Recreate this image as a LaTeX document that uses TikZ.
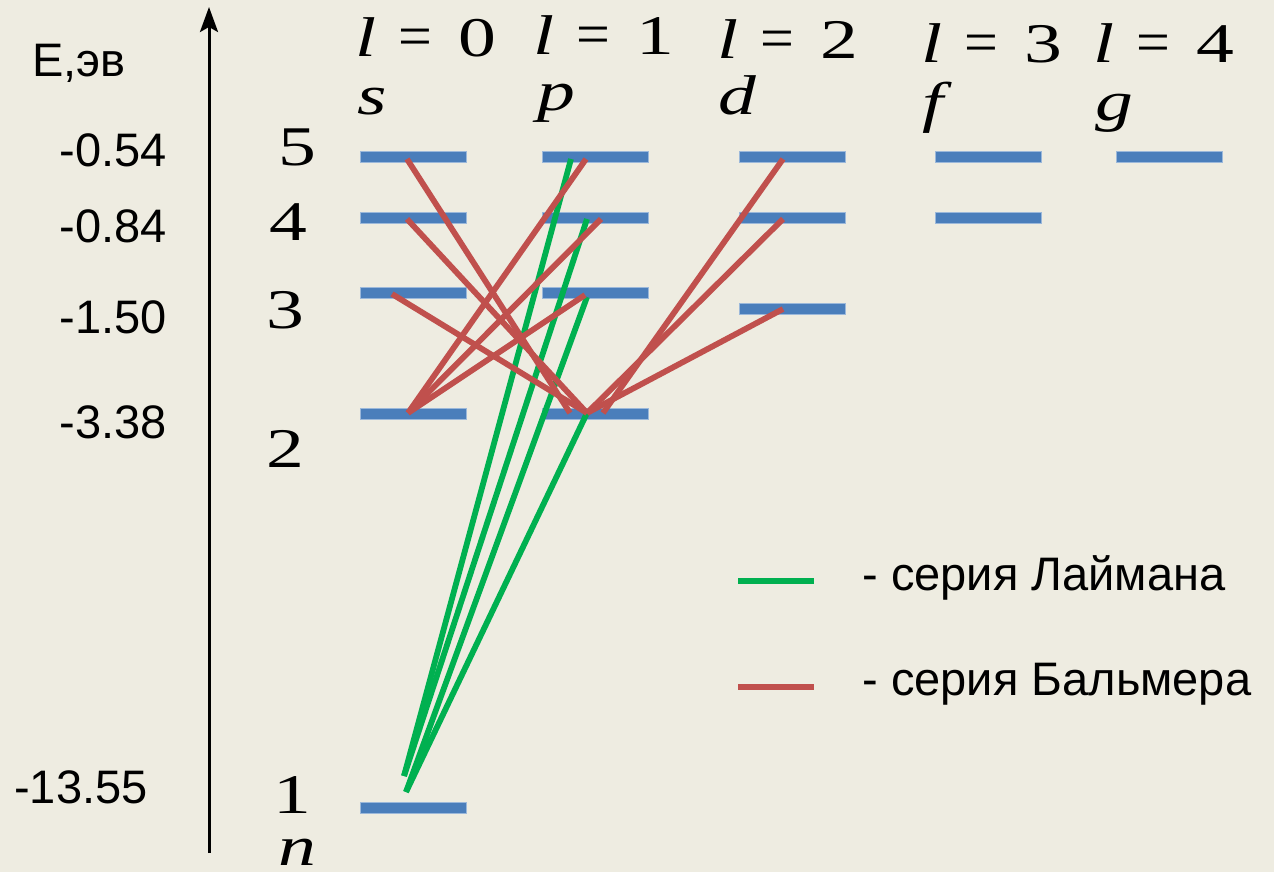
\documentclass[tikz,border=0pt]{standalone}
\usepackage{fontspec}
\setmainfont{Liberation Serif}
\newfontfamily\sansfont{Liberation Sans}
\newfontfamily\wideserif[FakeStretch=1.35]{Liberation Serif}
\usepackage{xcolor}
\usetikzlibrary{arrows.meta, calc, positioning}

\definecolor{bgpaper}{HTML}{EEECE1}
\definecolor{lvlblue}{HTML}{4A7EBB}
\definecolor{lymgreen}{HTML}{00B050}
\definecolor{balred}{HTML}{C0504D}

\tikzset{
  %% Energy level bar
  lvl/.style={
    rectangle, fill=lvlblue, draw=lvlblue!55!white,
    line width=0.3pt, inner sep=0pt,
    minimum width=53pt, minimum height=5.6pt
  },
  %% Transitions
  lyman/.style={draw=lymgreen, line width=2.9pt},
  balmer/.style={draw=balred, line width=2.9pt},
  legline/.style={line width=3.3pt},
  %% Axis
  eaxis/.style={-{Stealth[length=12.5pt,width=9pt,inset=2.5pt]},
                draw=black, line width=1.5pt},
  %% Texts
  ev/.style={anchor=base east, inner sep=0pt,
             font=\sansfont\fontsize{23.5}{27}\selectfont},
  legtext/.style={anchor=base west, inner sep=0pt,
             font=\sansfont\fontsize{23.5}{27}\selectfont},
  num/.style={anchor=base, inner sep=0pt,
             font=\wideserif\fontsize{28}{32}\selectfont},
  orb/.style={anchor=base west, inner sep=0pt,
             font=\wideserif\fontsize{28}{32}\selectfont},
}

\newcommand{\lval}[1]{\textit{l}\hspace{0.4em}{\rmfamily\fontsize{30}{32}\selectfont=}\hspace{0.46em}#1}

\begin{document}
\begin{tikzpicture}[x=0.5pt, y=-0.5pt]
  \fill[bgpaper] (0,0) rectangle (1274,872);
  \useasboundingbox (0,0) rectangle (1274,872);

  %% Energy axis
  \coordinate (axbot) at (209,853);
  \coordinate (axtop) at (209,7);
  \draw[eaxis] (axbot) -- (axtop);

  \node[ev, anchor=base west] (eunit) at (32,77) {E,эв};
  \node[ev] (e5) at (167,167) {-0.54};
  \node[ev] (e4) at (167,242) {-0.84};
  \node[ev] (e3) at (167,333) {-1.50};
  \node[ev] (e2) at (167,438) {-3.38};
  \node[ev] (e1) at (148,803) {-13.55};

  %% Principal quantum number
  \node[num] (n5) at (297,165) {5};
  \node[num] (n4) at (288,240) {4};
  \node[num] (n3) at (285,328) {3};
  \node[num] (n2) at (285,467) {2};
  \node[num] (n1) at (292,813) {1};
  \node[num, font=\wideserif\fontsize{28}{32}\selectfont\itshape] (nsym) at (297,865) {n};

  %% Orbital quantum number
  \node[orb] (l0) at (355,57) {\lval{0}};
  \node[orb] (l1) at (533,55) {\lval{1}};
  \node[orb] (l2) at (717,59) {\lval{2}};
  \node[orb] (l3) at (921,63) {\lval{3}};
  \node[orb] (l4) at (1093,63) {\lval{4}};
  \node[orb] (ls) at (357,115) {\textit{s}};
  \node[orb] (lp) at (537,111) {\textit{p}};
  \node[orb] (ld) at (718,115) {\textit{d}};
  \node[orb] (lf) at (922,121) {\textit{f}};
  \node[orb] (lg) at (1095,120) {\textit{g}};

  %% Levels
  \node[lvl] (s5) at (413.5,157) {};
  \node[lvl] (s4) at (413.5,218) {};
  \node[lvl] (s3) at (413.5,293) {};
  \node[lvl] (s2) at (413.5,414) {};
  \node[lvl] (s1) at (413.5,808) {};
  \node[lvl] (p5) at (595,157) {};
  \node[lvl] (p4) at (595,218) {};
  \node[lvl] (p3) at (595,293) {};
  \node[lvl] (p2) at (595,414) {};
  \node[lvl] (d5) at (792,157) {};
  \node[lvl] (d4) at (792,218) {};
  \node[lvl] (d3) at (792,309) {};
  \node[lvl] (f5) at (988,157) {};
  \node[lvl] (f4) at (988,218) {};
  \node[lvl] (g5) at (1169,157) {};

  %% Lyman series
  \draw[lyman] ($(p5)+(-24,2)$) -- ($(s1)+(-9.5,-32)$);
  \draw[lyman] ($(p4)+(-8,1)$)  -- ($(s1)+(-9.5,-32)$);
  \draw[lyman] ($(p3)+(-8,4)$)  -- ($(s1)+(-7.5,-16)$);
  \draw[lyman] ($(p2)+(-8,-1)$) -- ($(s1)+(-7.5,-16)$);

  %% Balmer series
  \draw[balmer] ($(s5)+(-6.5,2)$)  -- ($(p2)+(-25,-1)$);
  \draw[balmer] ($(s4)+(-6.5,1)$)  -- ($(p2)+(-8,-1)$);
  \draw[balmer] ($(s3)+(-21.5,1)$) -- ($(p2)+(-8,-1)$);
  \draw[balmer] ($(s2)+(-5.5,-1)$) -- ($(p5)+(-9,2)$);
  \draw[balmer] ($(s2)+(-5.5,-1)$) -- ($(p4)+(6,1)$);
  \draw[balmer] ($(s2)+(-5.5,-1)$) -- ($(p3)+(-10,2)$);
  \draw[balmer] ($(d5)+(-9,2)$)    -- ($(p2)+(8,-1)$);
  \draw[balmer] ($(d4)+(-9,1)$)    -- ($(p2)+(-8,-1)$);
  \draw[balmer] ($(d3)+(-9,0)$)    -- ($(p2)+(-8,-1)$);

  %% Legend
  \coordinate (lgA) at (738,581);
  \coordinate (lgB) at (814,581);
  \coordinate (lrA) at (738,687);
  \coordinate (lrB) at (814,687);
  \draw[legline, lymgreen] (lgA) -- (lgB);
  \draw[legline, balred] (lrA) -- (lrB);
  \node[legtext] (leglym) at (862,590) {- серия Лаймана};
  \node[legtext] (legbal) at (862,695) {- серия Бальмера};

\end{tikzpicture}
\end{document}
